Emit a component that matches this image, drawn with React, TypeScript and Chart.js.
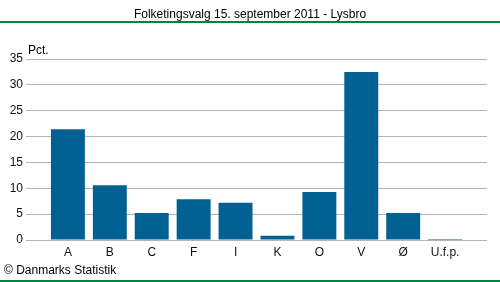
import React, { useEffect, useRef } from "react";
import { Chart, registerables } from "chart.js";

Chart.register(...registerables);

const categories = ["A", "B", "C", "F", "I", "K", "O", "V", "Ø", "U.f.p."];
const values = [21.4, 10.6, 5.2, 7.9, 7.2, 0.8, 9.3, 32.5, 5.2, 0.2];
const yTicks = [0, 5, 10, 15, 20, 25, 30, 35];
const titleText = "Folketingsvalg 15. september 2011 - Lysbro";
const unitText = "Pct.";
const sourceText = "© Danmarks Statistik";

const FONT = "'Liberation Sans', Arial, sans-serif";

const decor = {
  id: "decor",
  afterDraw(chart: any) {
    const ctx = chart.ctx;
    const w = chart.width;
    ctx.save();
    ctx.fillStyle = "#000";
    ctx.font = `12px ${FONT}`;
    ctx.textAlign = "center";
    ctx.textBaseline = "middle";
    ctx.fillText(titleText, w / 2, 15);
    ctx.strokeStyle = "#00843d";
    ctx.lineWidth = 2;
    ctx.beginPath();
    ctx.moveTo(0, 22);
    ctx.lineTo(w, 22);
    ctx.stroke();
    ctx.beginPath();
    ctx.moveTo(0, 281);
    ctx.lineTo(w, 281);
    ctx.stroke();
    ctx.textAlign = "left";
    ctx.fillText(unitText, 28, 51);
    ctx.fillText(sourceText, 4, 271);
    ctx.restore();
  },
};

export default function App() {
  const ref = useRef<HTMLCanvasElement>(null);
  useEffect(() => {
    document.body.style.margin = "0";
    const chart = new Chart(ref.current!, {
      type: "bar",
      data: {
        datasets: [
          {
            data: values.map((v, i) => ({ x: i, y: v })),
            backgroundColor: "#006192",
            barPercentage: 0.81,
            categoryPercentage: 1,
          },
        ],
      },
      options: {
        animation: false,
        responsive: false,
        maintainAspectRatio: false,
        layout: { padding: { top: 59, right: 13, left: 0, bottom: 0 } },
        plugins: { legend: { display: false }, tooltip: { enabled: false } },
        scales: {
          x: {
            type: "linear",
            offset: false,
            min: -1,
            max: 10,
            afterFit(scale: any) {
              scale.height = 42;
            },
            afterBuildTicks(scale: any) {
              scale.ticks = categories.map((_, i) => ({ value: i }));
            },
            ticks: {
              autoSkip: false,
              maxRotation: 0,
              padding: 5,
              color: "#111",
              font: { family: FONT, size: 12 },
              callback: (v: any) => categories[v] ?? "",
            },
            grid: { display: false, drawTicks: false },
            border: { display: false },
          },
          y: {
            min: 0,
            max: 35,
            afterFit(scale: any) {
              scale.width = 26;
            },
            afterBuildTicks(scale: any) {
              scale.ticks = yTicks.map((v) => ({ value: v }));
            },
            ticks: {
              padding: 3,
              color: "#111",
              font: { family: FONT, size: 12 },
            },
            grid: { color: "#b4b4c0", lineWidth: 1, drawTicks: false },
            border: { display: false },
          },
        },
      },
      plugins: [decor],
    });
    return () => chart.destroy();
  }, []);
  return (
    <div style={{ position: "absolute", left: 0, top: 0, width: 500, height: 282 }}>
      <canvas ref={ref} width={500} height={282} />
    </div>
  );
}
